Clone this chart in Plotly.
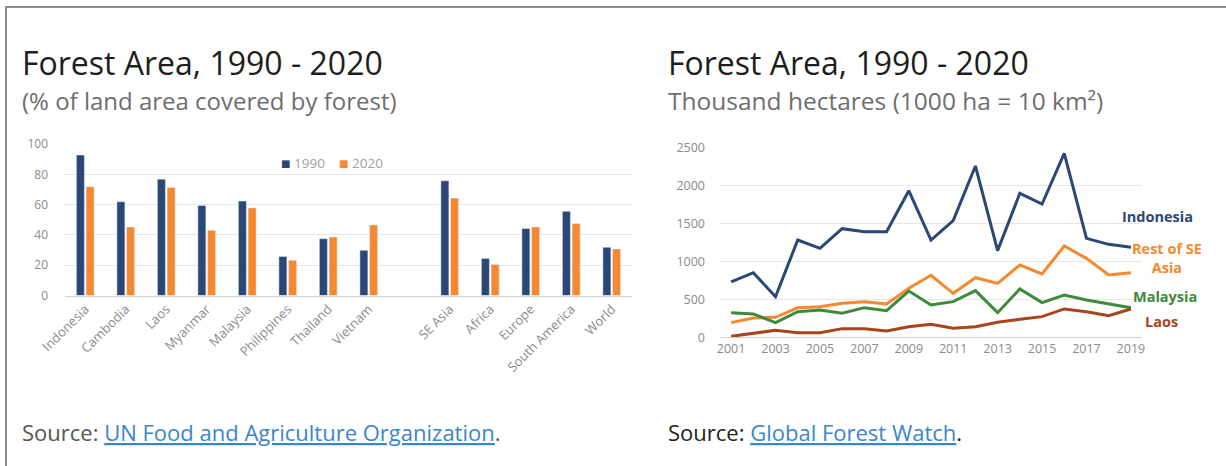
import plotly.graph_objects as go

# ---- Left chart: % of land area covered by forest ----
countries = ["Indonesia", "Cambodia", "Laos", "Myanmar", "Malaysia",
             "Philippines", "Thailand", "Vietnam"]
regions = ["SE Asia", "Africa", "Europe", "South America", "World"]
pct_1990_countries = [92.7, 61.8, 76.8, 59.4, 62.3, 25.8, 37.5, 29.8]
pct_2020_countries = [71.7, 45.2, 71.3, 43.0, 57.8, 23.2, 38.6, 46.6]
pct_1990_regions = [75.7, 24.5, 44.2, 55.6, 31.8]
pct_2020_regions = [64.3, 20.5, 45.2, 47.5, 30.7]
pct_ticks = [0, 20, 40, 60, 80, 100]
bar_years = ["1990", "2020"]

# ---- Right chart: forest loss, thousand hectares ----
years = list(range(2001, 2020))
indonesia = [730, 850, 534, 1280, 1171, 1429, 1390, 1390, 1929, 1280,
             1535, 2254, 1140, 1895, 1754, 2421, 1302, 1223, 1184]
rest_se_asia = [193, 255, 263, 390, 403, 447, 469, 438, 645, 816,
                579, 784, 710, 951, 833, 1201, 1039, 820, 850]
malaysia = [324, 307, 193, 337, 359, 316, 390, 350, 609, 425,
            469, 614, 324, 636, 456, 557, 491, 438, 390]
laos = [13, 48, 92, 61, 61, 114, 114, 83, 140, 171,
        118, 140, 197, 236, 272, 373, 337, 285, 373]
year_ticks = list(range(2001, 2020, 2))
ha_ticks = [0, 500, 1000, 1500, 2000, 2500]

W, H = 1226, 466
FONT = "Open Sans"
NAVY = "#2a4776"
ORANGE = "#f4892f"
GREEN = "#3d8a3a"
BROWN = "#a8441c"
TICK_GREY = "#8a8a8a"
GRID = "#e6e6e6"
LINK = "#3b86c8"


def px(x):
    return x / W


def py(y):
    return 1 - y / H


# one empty slot separates the countries from the regional aggregates
gap_label = " "
x_all = countries + [gap_label] + regions
y1990 = pct_1990_countries + [None] + pct_1990_regions
y2020 = pct_2020_countries + [None] + pct_2020_regions

fig = go.Figure()
fig.add_trace(go.Bar(x=x_all, y=y1990, name=bar_years[0], marker_color=NAVY,
                     xaxis="x", yaxis="y"))
fig.add_trace(go.Bar(x=x_all, y=y2020, name=bar_years[1], marker_color=ORANGE,
                     xaxis="x", yaxis="y"))

line_series = [
    ("Indonesia", indonesia, NAVY),
    ("Rest of SE Asia", rest_se_asia, ORANGE),
    ("Malaysia", malaysia, GREEN),
    ("Laos", laos, BROWN),
]
for name, vals, col in line_series:
    fig.add_trace(go.Scatter(x=years, y=vals, name=name, mode="lines",
                             line=dict(color=col, width=3),
                             xaxis="x2", yaxis="y2"))

fig.update_layout(
    width=W, height=H,
    margin=dict(l=0, r=0, t=0, b=0, autoexpand=False),
    paper_bgcolor="white", plot_bgcolor="white",
    font=dict(family=FONT),
    barmode="group", bargap=0.52, bargroupgap=0.18,
    showlegend=False,
    xaxis=dict(domain=[px(65), px(632)], type="category",
               categoryorder="array", categoryarray=x_all,
               tickvals=countries + regions,
               range=[-0.5, len(x_all) - 0.5],
               tickangle=-45, tickfont=dict(family=FONT, size=13, color=TICK_GREY),
               showgrid=False, showline=True, linecolor="#d0d0d0", linewidth=1,
               ticks="", anchor="y", automargin=False),
    yaxis=dict(domain=[py(295.5), py(144)], range=[0, 100],
               tickvals=pct_ticks, tickfont=dict(family=FONT, size=12, color=TICK_GREY),
               gridcolor=GRID, gridwidth=1, zeroline=False,
               showline=False, ticks="", anchor="x", ticklabelstandoff=16,
               automargin=False),
    xaxis2=dict(domain=[px(720), px(1142)], range=[2000.5, 2019.5],
                tickvals=year_ticks, tickfont=dict(family=FONT, size=12.5, color=TICK_GREY),
                showgrid=False, showline=True, linecolor="#d0d0d0", linewidth=1,
                ticks="", anchor="y2", zeroline=False, automargin=False),
    yaxis2=dict(domain=[py(337.3), py(147.3)], range=[0, 2500],
                tickvals=ha_ticks, tickfont=dict(family=FONT, size=12.5, color=TICK_GREY),
                gridcolor=GRID, gridwidth=1, zeroline=False,
                showline=False, ticks="", anchor="x2", ticklabelstandoff=14,
                automargin=False),
)

annotations = [
    dict(text="Forest Area, 1990 - 2020", x=px(20), y=py(63),
         font=dict(family=FONT, size=32, color="#1e1e1e")),
    dict(text="(% of land area covered by forest)", x=px(20), y=py(100),
         font=dict(family=FONT, size=24, color="#6e6e6e")),
    dict(text="Forest Area, 1990 - 2020", x=px(666), y=py(63),
         font=dict(family=FONT, size=32, color="#1e1e1e")),
    dict(text="Thousand hectares (1000 ha = 10 km²)", x=px(666), y=py(100),
         font=dict(family=FONT, size=24.5, color="#6e6e6e")),
    dict(text="Source: <span style='color:" + LINK + "'><u>UN Food and Agriculture Organization</u></span>.",
         x=px(20), y=py(432), font=dict(family=FONT, size=22, color="#555555")),
    dict(text="Source: <span style='color:" + LINK + "'><u>Global Forest Watch</u></span>.",
         x=px(666), y=py(432), font=dict(family=FONT, size=22, color="#222222")),
]
for a in annotations:
    a.update(xref="paper", yref="paper", xanchor="left", yanchor="middle",
             showarrow=False)

# compact key for the bar chart: small colour square followed by the year
key_items = [(bar_years[0], NAVY, 285), (bar_years[1], ORANGE, 343)]
for label, col, x in key_items:
    annotations.append(dict(text="■", x=px(x), y=py(163), xref="paper", yref="paper",
                            xanchor="center", yanchor="middle", showarrow=False,
                            font=dict(family="DejaVu Sans", size=10, color=col)))
    annotations.append(dict(text=label, x=px(x + 7), y=py(163), xref="paper",
                            yref="paper", xanchor="left", yanchor="middle",
                            showarrow=False,
                            font=dict(family=FONT, size=13.5, color="#a0a0a0")))

# series labels at the end of each line
end_labels = [
    ("Indonesia", 1157, 216, NAVY),
    ("Rest of SE<br>Asia", 1167, 258, ORANGE),
    ("Malaysia", 1165, 296, GREEN),
    ("Laos", 1161, 321, BROWN),
]
for text, x, y, col in end_labels:
    annotations.append(dict(text="<b>" + text + "</b>", x=px(x), y=py(y),
                            xref="paper", yref="paper", xanchor="center",
                            yanchor="middle", showarrow=False,
                            font=dict(family=FONT, size=14.5, color=col)))

fig.update_layout(annotations=annotations)

# frame around the graphic (left and top edges)
fig.update_layout(shapes=[
    dict(type="line", xref="paper", yref="paper", x0=px(6), x1=px(6),
         y0=0, y1=py(6), line=dict(color="#8c8c8c", width=2)),
    dict(type="line", xref="paper", yref="paper", x0=px(6), x1=1,
         y0=py(7), y1=py(7), line=dict(color="#8c8c8c", width=2)),
])

fig.write_html("out.html")
